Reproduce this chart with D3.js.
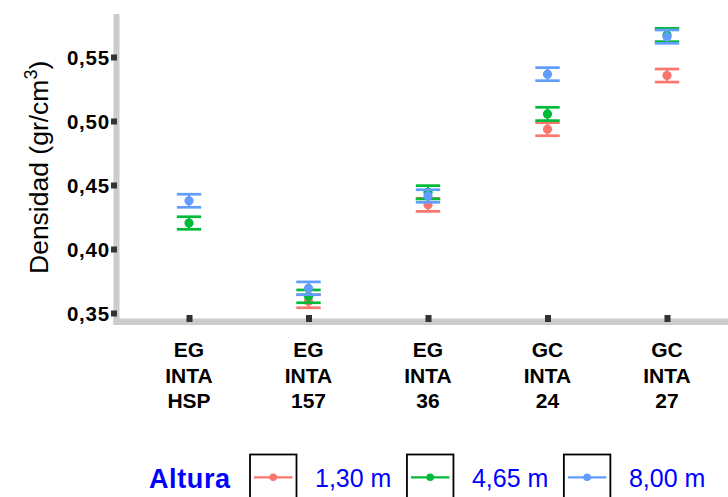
<!DOCTYPE html>
<html>
<head>
<meta charset="utf-8">
<script src="https://cdn.jsdelivr.net/npm/d3@7/dist/d3.min.js"></script>
<style>
  html, body { margin: 0; padding: 0; background: #fff; }
  svg { display: block; font-family: "Liberation Sans", Arial, sans-serif; }
</style>
</head>
<body>
<svg id="chart" width="728" height="497"></svg>
<script>
// Clones (x axis), each label line separated by a space
const categories = ["EG INTA HSP", "EG INTA 157", "EG INTA 36", "GC INTA 24", "GC INTA 27"];

// Sampling heights and their colours
const heights = ["1,30 m", "4,65 m", "8,00 m"];
const colors = ["#F8766D", "#00BA38", "#619CFF"];

// Mean wood density (gr/cm3) per clone, one array per height
const dens130 = [null, 0.3592, 0.4345, 0.4936, 0.5355];
const dens465 = [0.4203, 0.3630, 0.4443, 0.5055, 0.5672];
const dens800 = [0.4377, 0.3693, 0.4414, 0.5366, 0.5659];

// Standard error of each mean
const err130 = [null, 0.0051, 0.0051, 0.0051, 0.0051];
const err465 = [0.0049, 0.0050, 0.0052, 0.0052, 0.0052];
const err800 = [0.0051, 0.0050, 0.0049, 0.0051, 0.0052];

// Y axis tick values
const yTicks = [0.35, 0.40, 0.45, 0.50, 0.55];

const svg = d3.select("#chart");
const W = 728, H = 497;

const x = d3.scalePoint().domain(categories).range([189, 667]);
const y = d3.scaleLinear().domain([0.35, 0.55]).range([313, 57]);

const comma = d3.formatLocale({ decimal: ",", thousands: ".", grouping: [3], currency: ["", ""] });
const fmt = comma.format(".2f");

// Axis lines (grey bars)
svg.append("line")
  .attr("x1", 116.5).attr("x2", 116.5)
  .attr("y1", 14).attr("y2", 325)
  .attr("stroke", "#cccccc").attr("stroke-width", 6);
svg.append("line")
  .attr("x1", 113.5).attr("x2", W)
  .attr("y1", 321.7).attr("y2", 321.7)
  .attr("stroke", "#cccccc").attr("stroke-width", 6.5);

// Y axis: square ticks and bold labels
const yAxis = svg.append("g")
  .attr("transform", "translate(117,0)")
  .call(d3.axisLeft(y).tickValues(yTicks).tickFormat(fmt).tickSize(6).tickPadding(1));
yAxis.select(".domain").remove();
yAxis.selectAll(".tick line").attr("stroke", "#333333").attr("stroke-width", 6);
yAxis.selectAll(".tick text")
  .attr("fill", "#000").attr("font-size", 20.5).attr("font-weight", "bold")
  .attr("letter-spacing", 0.8)
  .attr("font-family", "Liberation Sans, Arial, sans-serif")
  .attr("dy", "0.36em");

// X axis: square ticks, labels drawn on three lines
const xAxis = svg.append("g")
  .attr("transform", "translate(0,315)")
  .call(d3.axisBottom(x).tickSize(7).tickFormat(""));
xAxis.select(".domain").remove();
xAxis.selectAll(".tick line").attr("stroke", "#333333").attr("stroke-width", 6);
xAxis.selectAll(".tick text").remove();

const xLab = svg.append("g")
  .attr("font-size", 21).attr("font-weight", "bold").attr("text-anchor", "middle").attr("fill", "#000");
categories.forEach(c => {
  const t = xLab.append("text").attr("x", x(c)).attr("y", 357);
  c.split(" ").forEach((line, i) => {
    t.append("tspan").attr("x", x(c)).attr("y", 357 + i * 25.7).text(line);
  });
});

// Y axis title with superscript
const title = svg.append("text")
  .attr("transform", "translate(48,274) rotate(-90)")
  .attr("font-size", 26.5).attr("fill", "#000");
title.append("tspan").text("Densidad (gr/cm");
title.append("tspan").attr("font-size", 18).attr("dy", -11).text("3");
title.append("tspan").attr("dy", 11).text(")");

// Points with error bars, one series per height
const series = [
  { name: heights[0], color: colors[0], mean: dens130, err: err130 },
  { name: heights[1], color: colors[1], mean: dens465, err: err465 },
  { name: heights[2], color: colors[2], mean: dens800, err: err800 }
];
const capHalf = 12.2;
series.forEach(s => {
  const g = svg.append("g").attr("stroke", s.color).attr("fill", s.color);
  categories.forEach((c, i) => {
    const m = s.mean[i];
    if (m == null) return;
    const e = s.err[i];
    const cx = x(c);
    g.append("line").attr("x1", cx).attr("x2", cx)
      .attr("y1", y(m + e)).attr("y2", y(m - e)).attr("stroke-width", 2);
    [m + e, m - e].forEach(v => {
      g.append("line").attr("x1", cx - capHalf).attr("x2", cx + capHalf)
        .attr("y1", y(v)).attr("y2", y(v)).attr("stroke-width", 2.7);
    });
    g.append("circle").attr("cx", cx).attr("cy", y(m)).attr("r", 4.6).attr("stroke", "none");
  });
});

// Legend
const leg = svg.append("g");
leg.append("text").attr("x", 149).attr("y", 488)
  .attr("font-size", 27).attr("font-weight", "bold").attr("letter-spacing", 0.6)
  .attr("fill", "#0000ff").text("Altura");
let lx = 250;
series.forEach(s => {
  leg.append("rect").attr("x", lx).attr("y", 454.5).attr("width", 46.5).attr("height", 60)
    .attr("fill", "#fff").attr("stroke", "#000").attr("stroke-width", 1.8);
  leg.append("line").attr("x1", lx + 4).attr("x2", lx + 42.5).attr("y1", 477.3).attr("y2", 477.3)
    .attr("stroke", s.color).attr("stroke-width", 2.2);
  leg.append("circle").attr("cx", lx + 23.25).attr("cy", 477.3).attr("r", 3.8).attr("fill", s.color);
  const t = leg.append("text").attr("x", lx + 46.5 + 18.5).attr("y", 487)
    .attr("font-size", 25).attr("fill", "#0000ff").text(s.name);
  lx = lx + 46.5 + 18.5 + t.node().getComputedTextLength() + 15.5;
});
</script>
</body>
</html>
